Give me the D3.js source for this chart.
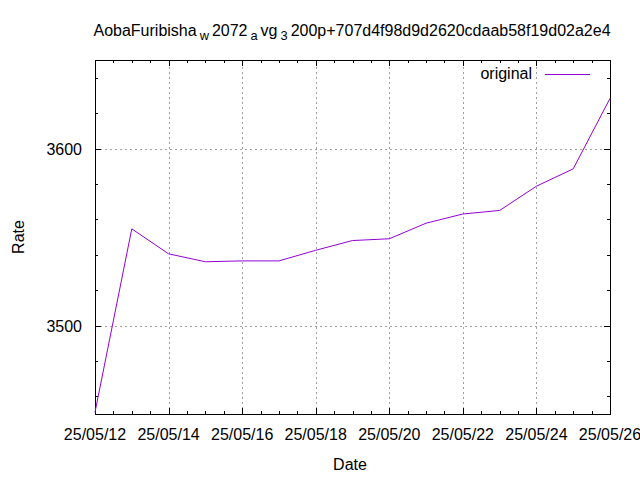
<!DOCTYPE html>
<html>
<head>
<meta charset="utf-8">
<script src="https://cdn.jsdelivr.net/npm/d3@7"></script>
<style>
  html, body { margin: 0; padding: 0; background: #fff; }
  svg { display: block; }
  text { font-family: "Liberation Sans", Arial, sans-serif; fill: #000; }
</style>
</head>
<body>
<svg id="chart" width="640" height="480"></svg>
<script>
const dates = ["2025-05-12","2025-05-13","2025-05-14","2025-05-15","2025-05-16","2025-05-17","2025-05-18","2025-05-19","2025-05-20","2025-05-21","2025-05-22","2025-05-23","2025-05-24","2025-05-25","2025-05-26"];
const rates = [3451, 3554.6, 3540.5, 3536, 3536.5, 3536.5, 3542.5, 3548, 3549, 3557.8, 3563, 3565, 3578.7, 3588.5, 3628.3];
const xTickDates = ["2025-05-12","2025-05-14","2025-05-16","2025-05-18","2025-05-20","2025-05-22","2025-05-24","2025-05-26"];
const yTicks = [3500, 3600];
const yMinorTicks = [3460, 3480, 3500, 3520, 3540, 3560, 3580, 3600, 3620, 3640];
const titleParts = [
  {t: "AobaFuribisha", sub: false},
  {t: "w", sub: true},
  {t: "2072", sub: false},
  {t: "a", sub: true},
  {t: "vg", sub: false},
  {t: "3", sub: true},
  {t: "200p+707d4f98d9d2620cdaab58f19d02a2e4", sub: false}
];
const seriesName = "original";
const xLabel = "Date";
const yLabel = "Rate";

const W = 640, H = 480;
const m = {left: 95, right: 30, top: 60, bottom: 66};
const parse = d3.utcParse("%Y-%m-%d");
const fmt = d3.utcFormat("%y/%m/%d");
const svg = d3.select("#chart");

const x = d3.scaleUtc()
  .domain([parse("2025-05-12"), parse("2025-05-26")])
  .range([m.left, W - m.right]);
const y = d3.scaleLinear()
  .domain([3450, 3650])
  .range([H - m.bottom, m.top]);

const data = dates.map((d, i) => ({date: parse(d), v: rates[i]}));
const xMajor = xTickDates.map(parse);
const xMinor = d3.utcHour.every(12).range(x.domain()[0], d3.utcHour.offset(x.domain()[1], 1));

const x0 = m.left, x1 = W - m.right, y0 = H - m.bottom, y1 = m.top;

// grid
const grid = svg.append("g").attr("stroke", "#a0a0a0").attr("stroke-width", 1).attr("stroke-dasharray", "2,3");
grid.selectAll("line.gx").data(xMajor.slice(1, -1)).join("line")
  .attr("x1", d => Math.round(x(d)) + 0.5).attr("x2", d => Math.round(x(d)) + 0.5)
  .attr("y1", y0).attr("y2", y1);
grid.selectAll("line.gy").data(yTicks).join("line")
  .attr("x1", x0).attr("x2", x1)
  .attr("y1", d => Math.round(y(d)) + 0.5).attr("y2", d => Math.round(y(d)) + 0.5);

// ticks (mirrored on all sides)
const ticks = svg.append("g").attr("stroke", "#000").attr("stroke-width", 1);
const isMajorX = d => xMajor.some(t => +t === +d);
ticks.selectAll("line.bx").data(xMinor).join("line")
  .attr("x1", d => Math.round(x(d)) + 0.5).attr("x2", d => Math.round(x(d)) + 0.5)
  .attr("y1", y0).attr("y2", d => y0 - (isMajorX(d) ? 6 : 3));
ticks.selectAll("line.tx").data(xMinor).join("line")
  .attr("x1", d => Math.round(x(d)) + 0.5).attr("x2", d => Math.round(x(d)) + 0.5)
  .attr("y1", y1).attr("y2", d => y1 + (isMajorX(d) ? 6 : 3));
const isMajorY = d => yTicks.includes(d);
ticks.selectAll("line.ly").data(yMinorTicks).join("line")
  .attr("x1", x0).attr("x2", d => x0 + (isMajorY(d) ? 6 : 3))
  .attr("y1", d => Math.round(y(d)) + 0.5).attr("y2", d => Math.round(y(d)) + 0.5);
ticks.selectAll("line.ry").data(yMinorTicks).join("line")
  .attr("x1", x1).attr("x2", d => x1 - (isMajorY(d) ? 6 : 3))
  .attr("y1", d => Math.round(y(d)) + 0.5).attr("y2", d => Math.round(y(d)) + 0.5);

// frame
svg.append("rect")
  .attr("x", x0 + 0.5).attr("y", y1 + 0.5)
  .attr("width", x1 - x0).attr("height", y0 - y1)
  .attr("fill", "none").attr("stroke", "#000").attr("stroke-width", 1);

// tick labels
svg.append("g").selectAll("text").data(xMajor).join("text")
  .attr("x", d => x(d)).attr("y", 440)
  .attr("text-anchor", "middle").attr("font-size", 16)
  .text(d => fmt(d));
svg.append("g").selectAll("text").data(yTicks).join("text")
  .attr("x", 82).attr("y", d => y(d) + 6)
  .attr("text-anchor", "end").attr("font-size", 16)
  .text(d => d);

// axis labels
svg.append("text").attr("x", 350).attr("y", 470)
  .attr("text-anchor", "middle").attr("font-size", 16).text(xLabel);
svg.append("text").attr("transform", "translate(24,237) rotate(-90)")
  .attr("text-anchor", "middle").attr("font-size", 16).text(yLabel);

// title
const title = svg.append("text").attr("x", 352).attr("y", 36)
  .attr("text-anchor", "middle").attr("font-size", 16);
let prevSub = false;
titleParts.forEach(p => {
  const ts = title.append("tspan").text(p.t);
  if (p.sub) {
    ts.attr("font-size", 12.8).attr("dy", 4).attr("dx", 3);
  } else if (prevSub) {
    ts.attr("dy", -4).attr("dx", 3);
  }
  prevSub = p.sub;
});

// line
const line = d3.line().x(d => x(d.date)).y(d => y(d.v));
svg.append("path").datum(data)
  .attr("d", line).attr("fill", "none")
  .attr("stroke", "#9400d3").attr("stroke-width", 1);

// legend
svg.append("text").attr("x", 532).attr("y", 79)
  .attr("text-anchor", "end").attr("font-size", 16).text(seriesName);
svg.append("line").attr("x1", 545).attr("x2", 590)
  .attr("y1", 74.5).attr("y2", 74.5)
  .attr("stroke", "#9400d3").attr("stroke-width", 1);
</script>
</body>
</html>
